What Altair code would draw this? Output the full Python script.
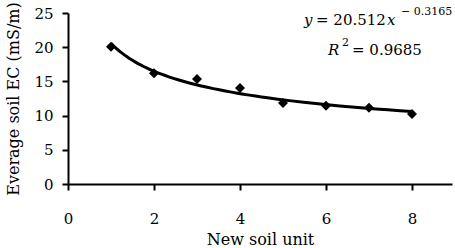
import altair as alt
import pandas as pd

units = [1, 2, 3, 4, 5, 6, 7, 8]
ec = [20.05, 16.2, 15.35, 14.05, 11.85, 11.45, 11.15, 10.25]
x_ticks = [0, 2, 4, 6, 8]
y_ticks = [0, 5, 10, 15, 20, 25]

df = pd.DataFrame({"unit": units, "ec": ec})

FONT = "'DejaVu Serif', serif"

xscale = alt.Scale(domain=[0, 8.93], nice=False, zero=True)
yscale = alt.Scale(domain=[0, 25], nice=False)

xaxis = alt.Axis(title="New soil unit", values=x_ticks, grid=False,
                 domainColor="black", domainWidth=2, tickColor="black", tickWidth=2,
                 tickSize=6, labelPadding=21, labelFontSize=15, labelFont=FONT,
                 labelOverlap=False, labelFlush=False,
                 labelColor="black", titleFont=FONT, titleFontSize=16,
                 titleFontWeight="normal", titleColor="black", titlePadding=5)
yaxis = alt.Axis(title="Everage soil EC (mS/m)", values=y_ticks, grid=False,
                 domainColor="black", domainWidth=2, tickColor="black", tickWidth=2,
                 tickSize=6, labelPadding=9, labelFontSize=15, labelFont=FONT,
                 labelOverlap=False, labelFlush=False,
                 labelColor="black", titleFont=FONT, titleFontSize=16,
                 titleFontWeight="normal", titleColor="black", titlePadding=12)

base = alt.Chart(df)

points = base.mark_point(shape="diamond", filled=True, color="black", size=100, opacity=1).encode(
    x=alt.X("unit:Q", scale=xscale, axis=xaxis),
    y=alt.Y("ec:Q", scale=yscale, axis=yaxis),
)

trend = base.transform_regression("unit", "ec", method="pow", extent=[1, 8]).mark_line(
    color="black", strokeWidth=3
).encode(x=alt.X("unit:Q", scale=xscale, axis=xaxis), y=alt.Y("ec:Q", scale=yscale, axis=yaxis))

def txt(s, x, y, size=15, style="normal"):
    return alt.Chart(pd.DataFrame({"t": [s]})).mark_text(
        font=FONT, fontSize=size, fontStyle=style, color="black", align="left", baseline="alphabetic"
    ).encode(text="t:N", x=alt.value(x), y=alt.value(y))

eq = [
    txt("y", 236, 12, style="italic"),
    txt("= 20.512", 248, 12),
    txt("x", 319, 12, style="italic"),
    txt("\u2212 0.3165", 333, 2, size=11),
    txt("R", 260, 42, style="italic"),
    txt("2", 274, 33, size=11),
    txt("= 0.9685", 284, 42),
]

chart = alt.layer(trend, points, *eq).properties(
    width=384, height=171,
    autosize=alt.AutoSizeParams(type="none"),
    padding={"left": 68, "top": 13, "right": 3, "bottom": 64},
).configure(background="white").configure_view(stroke=None)

chart.save("out.html", embed_options={"renderer": "svg", "actions": False})
